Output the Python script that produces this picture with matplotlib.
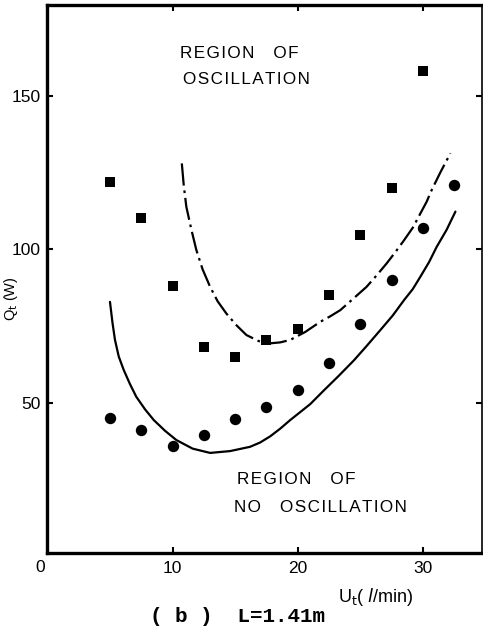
import matplotlib
matplotlib.use("Agg")
import matplotlib.pyplot as plt

# ---- data ----
sq_x = [5, 7.5, 10, 12.5, 15, 17.5, 20, 22.5, 25, 27.5, 30]
sq_y = [122, 110, 88, 68, 65, 70.5, 74, 85, 104.5, 120, 158]

ci_x = [5, 7.5, 10, 12.5, 15, 17.5, 20, 22.5, 25, 27.5, 30, 32.5]
ci_y = [45, 41, 36, 39.5, 44.5, 48.5, 54, 63, 75.5, 90, 107, 121]

# solid boundary (lower) curve
solid_x = [5.0, 5.2, 5.4, 5.7, 6.1, 6.6, 7.1, 7.8, 8.5, 9.4, 10.3, 11.6, 13.0,
           14.6, 16.2, 17.0, 17.8, 18.6, 19.4, 20.2, 21.0, 22.1, 23.3, 24.5,
           25.5, 26.6, 27.6, 28.5, 29.2, 29.8, 30.5, 31.1, 31.9, 32.6]
solid_y = [82.8, 76.0, 70.4, 65.0, 60.6, 56.0, 51.9, 47.8, 44.3, 40.8, 37.8,
           35.0, 33.6, 34.2, 35.6, 37.0, 39.0, 41.5, 44.3, 46.9, 49.5, 54.0,
           58.8, 63.8, 68.4, 73.6, 78.4, 83.4, 87.0, 91.0, 95.8, 100.7, 106.3,
           112.2]

# dash-dot boundary (upper) curve
dd_x = [10.74, 10.9, 11.1, 11.5, 11.9, 12.4, 13.0, 13.6, 14.3, 15.1, 15.9,
        16.9, 17.8, 18.6, 19.4, 20.6, 21.8, 22.6, 23.4, 24.4, 25.5, 26.3,
        27.1, 27.8, 28.5, 29.2, 29.8, 30.3, 30.7, 31.4, 32.2]
dd_y = [127.9, 120.5, 113.8, 106.4, 99.7, 93.4, 87.7, 83.0, 79.0, 75.2, 72.0,
        70.0, 69.3, 69.6, 70.4, 73.0, 76.3, 78.1, 80.1, 83.7, 87.7, 91.4,
        95.3, 99.0, 102.9, 107.0, 111.6, 115.4, 119.2, 125.0, 131.2]

xticks = [0, 10, 20, 30]
xtick_labels = ["0", "10", "20", "30"]
yticks = [50, 100, 150]
ytick_labels = ["50", "100", "150"]

W, H = 483, 628
fig = plt.figure(figsize=(W / 100, H / 100), dpi=100)
ax = fig.add_axes([47.4 / W, 1 - 553 / H, (481.7 - 47.4) / W, (553 - 5) / H])

ax.plot(solid_x, solid_y, color="black", lw=1.6, solid_capstyle="round",
        solid_joinstyle="round")
ax.plot(dd_x, dd_y, color="black", lw=1.6, dashes=(10, 2.2, 1.2, 2.2),
        dash_joinstyle="round")
ax.plot(sq_x, sq_y, "s", color="black", ms=7.3, mew=0)
ax.plot(ci_x, ci_y, "o", color="black", ms=8.2, mew=0)

ax.set_xlim(0, 34.7)
ax.set_ylim(1, 179.5)

ax.set_xticks(xticks[1:])
ax.set_xticklabels(xtick_labels[1:])
ax.set_yticks(yticks)
ax.set_yticklabels(ytick_labels)
ax.tick_params(direction="in", length=4, width=1.5, top=True, right=True,
               labelsize=12.5, colors="black")
ax.tick_params(axis="x", pad=6)
ax.tick_params(axis="y", pad=5)
for lab in ax.get_xticklabels() + ax.get_yticklabels():
    lab.set_fontfamily("Liberation Sans")

for side in ["left", "bottom", "top"]:
    ax.spines[side].set_linewidth(2.4)
ax.spines["right"].set_linewidth(1.2)

# "0" at the origin
fig.text(40 / W, 1 - 567 / H, "0", ha="center", va="center",
         fontsize=12.5, family="Liberation Sans")

ax.set_ylabel(r"Q$_\mathrm{t}$ (W)", fontsize=10.5, family="Liberation Sans")
ax.yaxis.set_label_coords(-0.062, (556 - 302) / (553 - 5))

HS = "\u200a"
def spaced(s):
    return HS.join(list(s))

txt_kw = dict(fontsize=12.3, family=["Liberation Sans", "DejaVu Sans"],
              ha="left", va="center")
fig.text(180 / W, 1 - 54 / H, spaced("REGION") + "    " + spaced("OF"), **txt_kw)
fig.text(183 / W, 1 - 80 / H, spaced("OSCILLATION"), **txt_kw)
fig.text(237 / W, 1 - 480 / H, spaced("REGION") + "    " + spaced("OF"), **txt_kw)
fig.text(234 / W, 1 - 508 / H, spaced("NO") + "    " + spaced("OSCILLATION"), **txt_kw)

fig.text(376 / W, 1 - 597 / H, r"U$_\mathrm{t}$( $\mathit{l}$/min)",
         ha="center", va="center", fontsize=13, family="Liberation Sans")
fig.text(237 / W, 1 - 617 / H, "( b )  L=1.41m", ha="center", va="center",
         fontsize=15, family="Liberation Mono", weight="bold")

fig.savefig("out.png", dpi=100)
